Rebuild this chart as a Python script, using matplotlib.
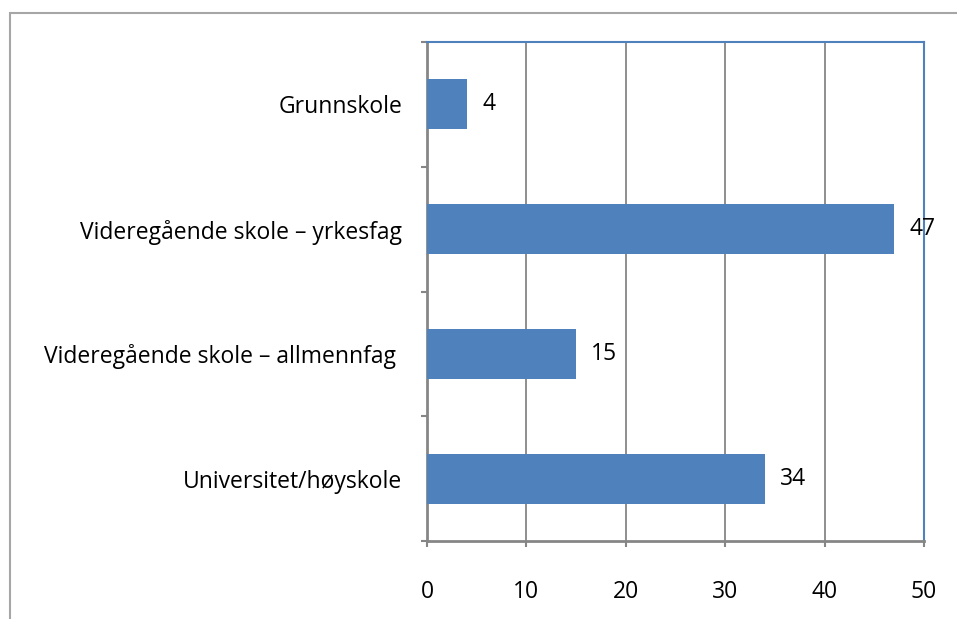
import numpy as np
import matplotlib.pyplot as plt
from matplotlib.patches import Rectangle

# categories from top to bottom, with the values (percent)
categories = ["Grunnskole", "Videregående skole – yrkesfag",
              "Videregående skole – allmennfag", "Universitet/høyskole"]
tick_labels = ["Grunnskole", "Videregående skole – yrkesfag",
               "Videregående skole – allmennfag ", "Universitet/høyskole"]
values = [4, 47, 15, 34]
x_ticks = [0, 10, 20, 30, 40, 50]

bar_color = "#4F81BD"
axis_gray = "#868686"

plt.rcParams['font.family'] = ['Open Sans', 'DejaVu Sans']
fs = 16.5

fig = plt.figure(figsize=(9.57, 6.19), dpi=100)
ax = fig.add_axes([427/957, 1 - 541/619, (924 - 427)/957, (541 - 42)/619])

# outer chart frame, runs off the right and bottom edges
fig.patches.append(Rectangle((10/957, -0.1), 1.2, 1 - 13/619 + 0.1,
                             transform=fig.transFigure, fill=False,
                             edgecolor="#A6A6A6", linewidth=1.5))

y = np.arange(len(categories)) + 0.5
ax.barh(y, values, height=0.4, color=bar_color, zorder=3)

for yi, v in zip(y, values):
    ax.annotate(str(v), (v, yi), xytext=(11, 0), textcoords="offset points",
                ha="left", va="center", fontsize=fs, zorder=4)

ax.set_xlim(0, 50)
ax.set_ylim(len(categories), 0)

ax.set_xticks(x_ticks)
ax.set_xticklabels([str(t) for t in x_ticks], fontsize=fs)
ax.tick_params(axis="x", direction="out", length=4, width=1.5, color=axis_gray, pad=24)

ax.set_yticks(y)
ax.set_yticklabels(tick_labels, fontsize=fs)
ax.tick_params(axis="y", which="major", length=0, pad=18)
ax.set_yticks(np.arange(len(categories) + 1), minor=True)
ax.tick_params(axis="y", which="minor", direction="out", length=4, width=1.5, color=axis_gray)

ax.xaxis.grid(True, color=axis_gray, linewidth=1.3, zorder=0)
ax.set_axisbelow(True)

for side in ["left", "bottom"]:
    ax.spines[side].set_color(axis_gray)
    ax.spines[side].set_linewidth(2)
for side in ["top", "right"]:
    ax.spines[side].set_color(bar_color)
    ax.spines[side].set_linewidth(1.5)

fig.savefig("out.png", dpi=100)
